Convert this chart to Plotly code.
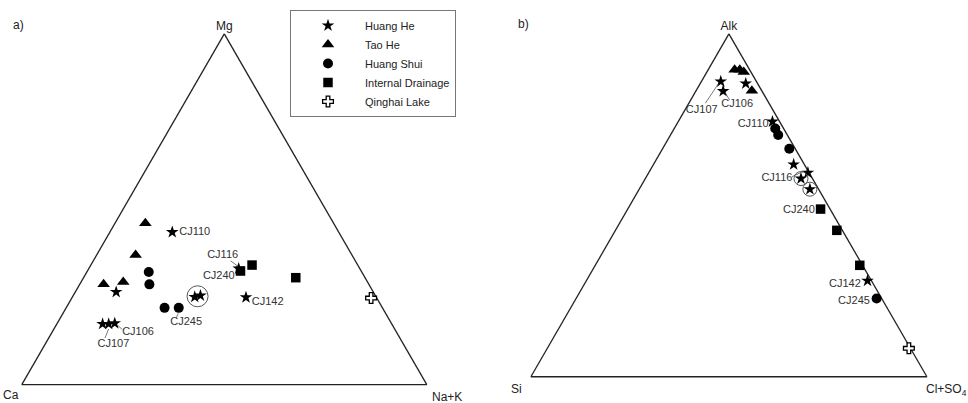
import math
import plotly.graph_objects as go

FIG_W, FIG_H = 968, 403

# ---------------------------------------------------------------------------
# Sample compositions (percent of the three end-members)
# ---------------------------------------------------------------------------
SERIES = ["Huang He", "Tao He", "Huang Shui", "Internal Drainage", "Qinghai Lake"]

# Huang He
HH_ID = ["CJ106", "CJ107", None, "CJ110", None, "CJ116", None, None, "CJ142"]
HH_CIRCLED = [False, False, False, False, False, False, True, True, False]
HH_MG = [17.5, 17.3, 17.3, 43.5, 26.4, 33.1, 25.0, 25.4, 24.9]
HH_CA = [68.3, 69.9, 71.4, 41.1, 63.5, 29.9, 44.8, 43.2, 32.2]
HH_NAK = [14.2, 12.8, 11.3, 15.4, 10.1, 37.0, 30.2, 31.4, 42.9]
HH_ALK = [83.3, 86.1, 85.5, 74.4, 61.9, 59.5, 57.8, 54.7, 28.0]
HH_SI = [9.8, 9.0, 3.0, 1.8, 2.7, 0.3, 2.9, 2.2, 1.0]
HH_CLSO4 = [6.9, 4.9, 11.5, 23.8, 35.4, 40.2, 39.3, 43.1, 71.0]

# Tao He
TH_ID = [None, None, None, None]
TH_CIRCLED = [False, False, False, False]
TH_MG = [46.0, 37.0, 28.6, 29.3]
TH_CA = [46.5, 53.4, 65.5, 60.3]
TH_NAK = [7.5, 9.6, 5.9, 10.4]
TH_ALK = [89.5, 89.5, 88.9, 83.4]
TH_SI = [3.8, 2.5, 1.8, 2.5]
TH_CLSO4 = [6.7, 8.0, 9.3, 14.1]

# Huang Shui
HS_ID = [None, None, None, "CJ245"]
HS_CIRCLED = [False, False, False, False]
HS_MG = [32.1, 28.6, 21.9, 21.9]
HS_CA = [52.6, 54.2, 53.8, 50.3]
HS_NAK = [15.3, 17.2, 24.3, 27.8]
HS_ALK = [72.4, 70.5, 66.5, 22.8]
HS_SI = [2.1, 2.3, 1.5, 1.3]
HS_CLSO4 = [25.5, 27.2, 32.0, 75.9]

# Internal drainage
ID_ID = ["CJ240", None, None]
ID_CIRCLED = [False, False, False]
ID_MG = [32.4, 34.1, 30.5]
ID_CA = [29.8, 26.1, 17.1]
ID_NAK = [37.8, 39.8, 52.4]
ID_ALK = [48.9, 42.7, 32.5]
ID_SI = [2.4, 1.4, 0.7]
ID_CLSO4 = [48.7, 55.9, 66.8]

# Qinghai Lake
QL_ID = [None]
QL_CIRCLED = [False]
QL_MG = [24.7]
QL_CA = [1.4]
QL_NAK = [73.9]
QL_ALK = [8.3]
QL_SI = [0.4]
QL_CLSO4 = [91.3]

# ---------------------------------------------------------------------------
# Styling
# ---------------------------------------------------------------------------
FONT = "Liberation Sans, Arial, sans-serif"
INK = "#222222"
LABEL_INK = "#333333"

MARKERS = {
    "Huang He": dict(symbol="star", size=9.5, color="black", line=dict(width=0)),
    "Tao He": dict(symbol="triangle-up", size=11, color="black", line=dict(width=0)),
    "Huang Shui": dict(symbol="circle", size=10, color="black", line=dict(width=0)),
    "Internal Drainage": dict(symbol="square", size=9.5, color="black", line=dict(width=0)),
    "Qinghai Lake": dict(symbol="cross", size=9, color="white",
                         line=dict(width=1.3, color="black")),
}

# Triangle placement: centre (px) and side length (px)
TRI_A = dict(cx=224.3, cy=209.3, width=405)
TRI_B = dict(cx=728.9, cy=205.3, width=396)

# Sample label offsets from the marker (px, +x right, +y down)
LABEL_OFFSETS_A = {
    "CJ110": (22.5, 0.5), "CJ142": (21.7, 4.7), "CJ245": (7.4, 14.7),
    "CJ240": (-21.7, 5.0), "CJ116": (-16.0, -13.3), "CJ106": (23.3, 9.0),
    "CJ107": (4.7, 20.0),
}
LEADERS_A = {
    "CJ116": ((-8.0, -7.7), (-0.7, -2.3)),
    "CJ106": ((3.3, 2.3), (7.6, 6.3)),
    "CJ107": ((0.0, 5.0), (-3.7, 14.0)),
    "CJ245": ((-0.5, 5.5), (-2.5, 10.0)),
}
LABEL_OFFSETS_B = {
    "CJ107": (-19.0, 28.3), "CJ106": (14.0, 13.3), "CJ110": (-19.3, 2.7),
    "CJ116": (-31.0, 5.7), "CJ240": (-21.6, 0.7), "CJ142": (-22.6, 3.3),
    "CJ245": (-22.6, 2.7),
}
LEADERS_B = {
    "CJ107": ((-2.4, 2.3), (-15.4, 21.6)),
    "CJ106": ((2.3, 2.3), (6.6, 9.0)),
    "CJ116": ((-16.0, 4.0), (-4.0, -1.5)),
}


def shift(a, b, c, dx, dy, width):
    """Move a ternary point (sum 100) by a pixel offset inside a triangle of given side."""
    h = width * math.sqrt(3) / 2
    da = -dy / h * 100
    dc = dx / width * 100 - da / 2
    db = -da - dc
    return a + da, b + db, c + dc


def domain(tri):
    w = tri["width"]
    h = w * math.sqrt(3) / 2
    x = [(tri["cx"] - w / 2) / FIG_W, (tri["cx"] + w / 2) / FIG_W]
    y = [1 - (tri["cy"] + h / 2) / FIG_H, 1 - (tri["cy"] - h / 2) / FIG_H]
    return x, y


groups_a = [
    ("Huang He", HH_ID, HH_CIRCLED, HH_MG, HH_CA, HH_NAK),
    ("Tao He", TH_ID, TH_CIRCLED, TH_MG, TH_CA, TH_NAK),
    ("Huang Shui", HS_ID, HS_CIRCLED, HS_MG, HS_CA, HS_NAK),
    ("Internal Drainage", ID_ID, ID_CIRCLED, ID_MG, ID_CA, ID_NAK),
    ("Qinghai Lake", QL_ID, QL_CIRCLED, QL_MG, QL_CA, QL_NAK),
]
groups_b = [
    ("Huang He", HH_ID, HH_CIRCLED, HH_ALK, HH_SI, HH_CLSO4),
    ("Tao He", TH_ID, TH_CIRCLED, TH_ALK, TH_SI, TH_CLSO4),
    ("Huang Shui", HS_ID, HS_CIRCLED, HS_ALK, HS_SI, HS_CLSO4),
    ("Internal Drainage", ID_ID, ID_CIRCLED, ID_ALK, ID_SI, ID_CLSO4),
    ("Qinghai Lake", QL_ID, QL_CIRCLED, QL_ALK, QL_SI, QL_CLSO4),
]

fig = go.Figure()


def add_diagram(groups, subplot, tri, label_offsets, leaders, show_legend, merge_rings, ring_size):
    # sample markers
    for name, ids, circled, a, b, c in groups:
        fig.add_trace(go.Scatterternary(
            a=a, b=b, c=c, mode="markers", name=name, legendgroup=name,
            showlegend=show_legend, subplot=subplot, cliponaxis=False,
            marker=MARKERS[name], hoverinfo="skip",
        ))

    # rings around highlighted samples
    ring = [(a[i], b[i], c[i]) for _, ids, circled, a, b, c in groups
            for i in range(len(a)) if circled[i]]
    if merge_rings and ring:
        n = len(ring)
        ring = [tuple(sum(p[k] for p in ring) / n for k in range(3))]
    if ring:
        fig.add_trace(go.Scatterternary(
            a=[p[0] for p in ring], b=[p[1] for p in ring], c=[p[2] for p in ring],
            mode="markers", showlegend=False, subplot=subplot, cliponaxis=False,
            marker=dict(symbol="circle-open", size=ring_size, color="#555555",
                        line=dict(width=1, color="#555555")),
            hoverinfo="skip",
        ))

    # sample names and leader lines
    la, lb, lc, txt = [], [], [], []
    sa, sb, sc = [], [], []
    for _, ids, circled, a, b, c in groups:
        for i, sid in enumerate(ids):
            if sid is None:
                continue
            dx, dy = label_offsets[sid]
            pa, pb, pc = shift(a[i], b[i], c[i], dx, dy, tri["width"])
            la.append(pa); lb.append(pb); lc.append(pc); txt.append(sid)
            if sid in leaders:
                (x0, y0), (x1, y1) = leaders[sid]
                p0 = shift(a[i], b[i], c[i], x0, y0, tri["width"])
                p1 = shift(a[i], b[i], c[i], x1, y1, tri["width"])
                sa += [p0[0], p1[0], None]
                sb += [p0[1], p1[1], None]
                sc += [p0[2], p1[2], None]
    if sa:
        fig.add_trace(go.Scatterternary(
            a=sa, b=sb, c=sc, mode="lines", showlegend=False, subplot=subplot,
            cliponaxis=False, connectgaps=False,
            line=dict(color="#555555", width=0.8), hoverinfo="skip",
        ))
    fig.add_trace(go.Scatterternary(
        a=la, b=lb, c=lc, text=txt, mode="text", showlegend=False, subplot=subplot,
        cliponaxis=False, textposition="middle center",
        textfont=dict(family=FONT, size=11, color=LABEL_INK), hoverinfo="skip",
    ))


add_diagram(groups_a, "ternary", TRI_A, LABEL_OFFSETS_A, LEADERS_A, True, True, 21)
add_diagram(groups_b, "ternary2", TRI_B, LABEL_OFFSETS_B, LEADERS_B, False, False, 14)


def ternary_layout(tri, top_title):
    dx, dy = domain(tri)
    axis = dict(showgrid=False, showticklabels=False, ticks="", linecolor=INK,
                linewidth=1.3, layer="below traces", min=0)
    return dict(
        domain=dict(x=dx, y=dy), sum=100, bgcolor="white",
        aaxis=dict(axis, title=dict(text=top_title, font=dict(family=FONT, size=12, color=INK))),
        # bottom corners are named with annotations below
        baxis=dict(axis, title=dict(text="")),
        caxis=dict(axis, title=dict(text="")),
    )


dom_ax, dom_ay = domain(TRI_A)
dom_bx, dom_by = domain(TRI_B)

corner_font = dict(family=FONT, size=12, color=INK)
annotations = [
    dict(text="a)", x=11 / FIG_W, y=1 - 25 / FIG_H, xref="paper", yref="paper",
         xanchor="left", yanchor="middle", showarrow=False, font=corner_font),
    dict(text="b)", x=516 / FIG_W, y=1 - 24 / FIG_H, xref="paper", yref="paper",
         xanchor="left", yanchor="middle", showarrow=False, font=corner_font),
    dict(text="Ca", x=dom_ax[0], y=dom_ay[0], xref="paper", yref="paper",
         xanchor="right", yanchor="top", xshift=-1, yshift=-1, showarrow=False, font=corner_font),
    dict(text="Na+K", x=dom_ax[1], y=dom_ay[0], xref="paper", yref="paper",
         xanchor="left", yanchor="top", xshift=3, yshift=-3, showarrow=False, font=corner_font),
    dict(text="Si", x=dom_bx[0], y=dom_by[0], xref="paper", yref="paper",
         xanchor="right", yanchor="top", xshift=-7, yshift=-3, showarrow=False, font=corner_font),
    dict(text="Cl+SO<sub>4</sub>", x=dom_bx[1], y=dom_by[0], xref="paper", yref="paper",
         xanchor="left", yanchor="top", xshift=-3, yshift=-3, showarrow=False, font=corner_font),
]

fig.update_layout(
    width=FIG_W, height=FIG_H,
    margin=dict(l=0, r=0, t=0, b=0),
    paper_bgcolor="white", plot_bgcolor="white",
    font=dict(family=FONT, size=11, color=INK),
    ternary=ternary_layout(TRI_A, "Mg"),
    ternary2=ternary_layout(TRI_B, "Alk"),
    annotations=annotations,
    showlegend=True,
    legend=dict(
        x=290 / FIG_W, y=1 - 10 / FIG_H, xanchor="left", yanchor="top",
        bgcolor="white", bordercolor="#777777", borderwidth=1,
        font=dict(family=FONT, size=11, color=INK),
        itemwidth=64, traceorder="normal",
    ),
)

fig.write_html("out.html")
